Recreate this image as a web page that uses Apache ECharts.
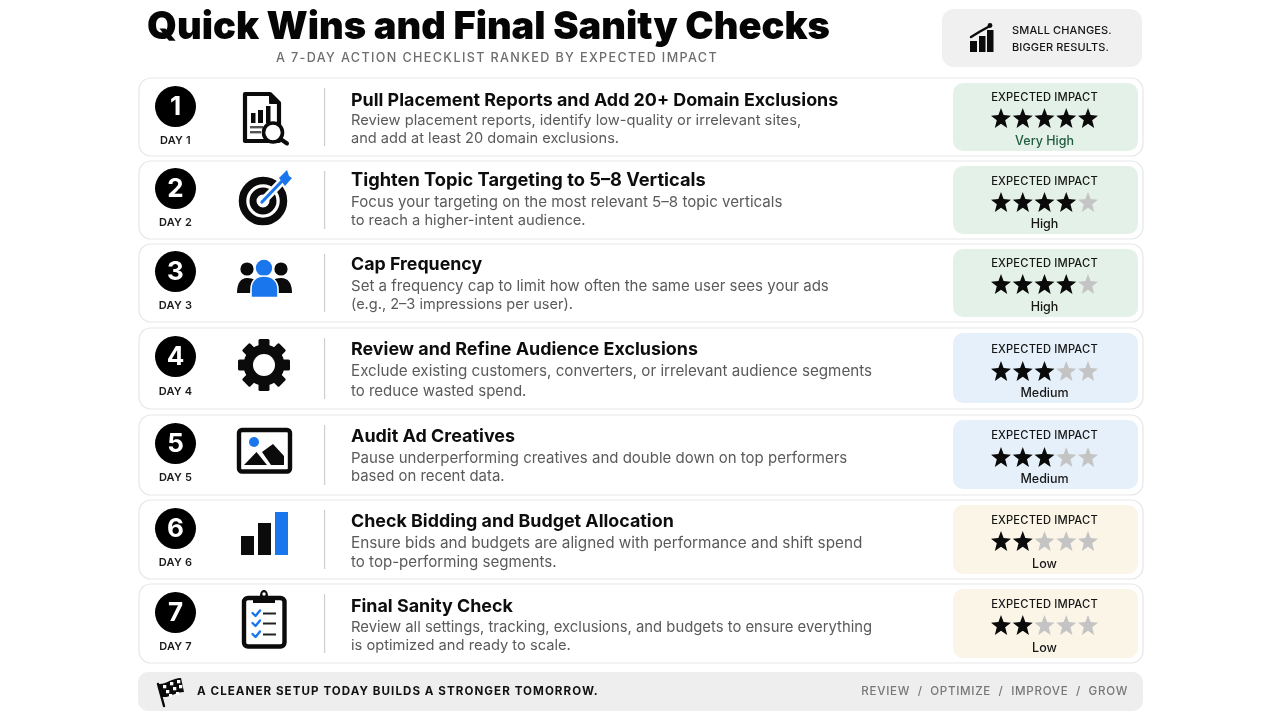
<!DOCTYPE html>
<html><head><meta charset="utf-8">
<style>html,body{margin:0;padding:0;background:#fff}#c{width:1280px;height:720px}</style>
<script src="https://cdn.jsdelivr.net/npm/echarts@6/dist/echarts.min.js"></script>
</head><body><div id="c"></div>
<script>
const chartTitle = 'Quick Wins and Final Sanity Checks';
const chartSubtitle = 'A 7-DAY ACTION CHECKLIST RANKED BY EXPECTED IMPACT';
const badgeLines = ['SMALL CHANGES.', 'BIGGER RESULTS.'];
const footerLeft = 'A CLEANER SETUP TODAY BUILDS A STRONGER TOMORROW.';
const footerRight = 'REVIEW  /  OPTIMIZE  /  IMPROVE  /  GROW';
const impactLabel = 'EXPECTED IMPACT';
const days = ['DAY 1','DAY 2','DAY 3','DAY 4','DAY 5','DAY 6','DAY 7'];
const titles = ['Pull Placement Reports and Add 20+ Domain Exclusions','Tighten Topic Targeting to 5–8 Verticals','Cap Frequency','Review and Refine Audience Exclusions','Audit Ad Creatives','Check Bidding and Budget Allocation','Final Sanity Check'];
const descLine1 = ['Review placement reports, identify low-quality or irrelevant sites,','Focus your targeting on the most relevant 5–8 topic verticals','Set a frequency cap to limit how often the same user sees your ads','Exclude existing customers, converters, or irrelevant audience segments','Pause underperforming creatives and double down on top performers','Ensure bids and budgets are aligned with performance and shift spend','Review all settings, tracking, exclusions, and budgets to ensure everything'];
const descLine2 = ['and add at least 20 domain exclusions.','to reach a higher-intent audience.','(e.g., 2–3 impressions per user).','to reduce wasted spend.','based on recent data.','to top-performing segments.','is optimized and ready to scale.'];
const ratings = [5,4,4,3,3,2,2];
const ratingNames = ['Very High','High','High','Medium','Medium','Low','Low'];

// layout (pixels), separate from the data
const L = {
  top:[78,161,244,328,415,500,584], bottom:[156,239,322,409,495,579,663],
  circle:[106.5,188.5,271.5,356.5,443.5,528.5,612.5], day:[141,223,306,392,478,563,647],
  title:[101,181,265,350,437,522,607], d1:[121,202,286,371,458,543,628], d2:[139,221,305,391,477,562,646],
  titleSize:[17.88,18.25,17.8,17.9,17.95,17.85,17.9],
  d1Size:[14.7,15.1,15.05,15.2,15.0,15.3,14.83], d2Size:[14.6,14.7,14.55,15.0,14.9,15.1,14.7],
  boxT:[83,166,249,333,420,505,589], boxB:[151,234,317,403,489,574,658],
  imp:[98,182,264,350,436,521,605], name:[141,224,307,393,479,564,648],
  starNudge:[0,-0.5,-3,-0.5,1,0.5,0]
};
const tint = {g:'#e4f1e8',b:'#e5f0fa',y:'#fbf5e8'};
const boxFill = [tint.g,tint.g,tint.g,tint.b,tint.b,tint.y,tint.y];
const BLUE='#1a76ec', INK='#0b0b0b';

// letter spacing for the tracked texts
const tracking = new Map([[chartSubtitle,1.37],[footerLeft,1.05],[footerRight,0.7],[impactLabel,0.15],[badgeLines[0],0.12],[badgeLines[1],0.12]]);
days.forEach(d=>tracking.set(d,0.2));
const _ft = CanvasRenderingContext2D.prototype.fillText;
CanvasRenderingContext2D.prototype.fillText = function(t,x,y,m){
  if('letterSpacing' in this) this.letterSpacing=(tracking.get(t)||0)+'px';
  return m===undefined?_ft.call(this,t,x,y):_ft.call(this,t,x,y,m);
};

const txt=(text,x,y,font,fill,align)=>({type:'text',style:{text,x,y,font,fill,textAlign:align||'left',textVerticalAlign:'middle'}});
const rect=(x,y,w,h,fill,r)=>({type:'rect',shape:{x,y,width:w,height:h,r:r||0},style:{fill}});
const circ=(cx,cy,r,fill,stroke,lw)=>({type:'circle',shape:{cx,cy,r},style:{fill:fill||'none',stroke:stroke||null,lineWidth:lw||0}});
const pth=(d,fill,stroke,lw,cap)=>({type:'path',shape:{pathData:d},style:{fill:fill||'none',stroke:stroke||null,lineWidth:lw||0,lineCap:cap||'round',lineJoin:'round'}});

function docIcon(){return [
  pth('M245,94 H270 L279,103 V141 H245 Z','#fff',INK,4.2),
  pth('M270,94 V103 H279',INK,INK,2),
  rect(251,113,4.5,10,INK),rect(258,110,5,13,INK),rect(266,106,4.5,17,INK),
  rect(250,126,13,2.4,'#555'),rect(250,131,11,2.4,'#555'),
  circ(273,132.5,9.5,'#fff',INK,3.6),
  pth('M280.5,139 L287,143.5','none',INK,4)
];}
function targetIcon(){return [
  circ(263,201,20.5,'none',INK,7.5),
  circ(263,201,10,'none',INK,7),
  pth('M262,202 L287,176','none','#fff',8,'butt'),
  pth('M262,202 L284,179','none',BLUE,3.2,'round'),
  pth('M279,178 L287,170 L289,176 L292,178 L285,186 Z',BLUE)
];}
function peopleIcon(){return [
  circ(247,269,6.6,INK),circ(281,269,6.6,INK),
  pth('M237,293 C237,283 241,278 247,278 C251,278 254,279 256,281 L250,293 Z',INK),
  pth('M292,293 C292,283 288,278 281,278 C277,278 274,279 272,281 L278,293 Z',INK),
  circ(264,268,8.2,BLUE),
  pth('M251,297.5 V289 C251,281 256,276 264,276 C272,276 278,281 278,289 V297.5 Z',BLUE,'#fff',1.6)
];}
function gearIcon(){
  const cx=264,cy=365,out=[circ(cx,cy,20.5,INK)];
  for(let a=0;a<8;a++){out.push({type:'rect',x:cx,y:cy,rotation:a*Math.PI/4,shape:{x:-5.5,y:-26,width:11,height:12,r:1.5},style:{fill:INK}});}
  out.push(circ(cx,cy,11,'#fff'));
  return out;
}
function imageIcon(){return [
  {type:'rect',shape:{x:239,y:430,width:51,height:41.5,r:3},style:{fill:'#fff',stroke:INK,lineWidth:4.4}},
  circ(254,442,5,BLUE),
  pth('M244,465 L256.5,452 L267,465 Z',INK),
  pth('M262,452 L273,444 L284,456 V465 H271 Z',INK)
];}
function barsIcon(){return [rect(241,536,13,19,INK),rect(258,523,13,32,INK),rect(275,512,13,43,BLUE)];}
function clipIcon(){
  const c=[{type:'rect',shape:{x:244,y:598,width:40.5,height:48.5,r:4},style:{fill:'#fff',stroke:INK,lineWidth:4.4}},
    pth('M253,603 V596 H260 C260,588 268,588 268,596 H275 V603 Z',INK),circ(264,594,1.7,'#fff')];
  [613,623,634].forEach(y=>{c.push(pth(`M252.5,${y} L255.5,${y+3} L260,${y-2.5}`,'none',BLUE,2.4));c.push(rect(263,y-0.5,13,2,'#222'));});
  return c;
}
const icons=[docIcon,targetIcon,peopleIcon,gearIcon,imageIcon,barsIcon,clipIcon];

function chartBadgeIcon(){return [rect(970,41,7,11,INK),rect(979,36,6.5,16,INK),rect(987,30,6.5,22,INK),
  pth('M971,37 L980,31.5 L990,26','none',INK,2.4),circ(990,25.5,2.4,INK)];}
function flagIcon(){
  const c=[pth('M158,684 L164,706','none',INK,2.4),pth('M158,684 C165,685 172,678 181,678 L184,692 C176,692 170,698 162,697 Z',INK)];
  [[163,685],[170,682],[177,680],[166,690],[173,687],[179,685],[169,694],[176,692]].forEach(p=>c.push(rect(p[0],p[1],3.3,3.3,'#fff')));
  return c;
}

const starPath='path://M50,0 L63,34 L100,37 L71,60 L81,97 L50,76 L19,97 L29,60 L0,37 L37,34 Z';
const starFilled=[],starEmpty=[];
ratings.forEach((r,row)=>{for(let s=1;s<=5;s++){(s<=r?starFilled:starEmpty).push({value:[s,row],symbolOffset:[0,L.starNudge[row]]});}});

function renderRow(p){
  const i=p.dataIndex,t=L.top[i],b=L.bottom[i];
  return {type:'group',children:[
    {type:'rect',shape:{x:139,y:t,width:1004,height:b-t,r:12},style:{fill:'#fff',stroke:'#e7e7e7',lineWidth:1.2}},
    circ(175.5,L.circle[i],20.5,'#000'),
    txt(String(i+1),175.5,L.circle[i]+0.5,'700 26px Inter','#fff','center'),
    txt(days[i],175.5,L.day[i],'600 11px Inter','#1a1a1a','center'),
    rect(324,t+10,1.2,b-t-20,'#cfcfcf'),
    ...icons[i](),
    txt(titles[i],351,L.title[i],'700 '+L.titleSize[i]+'px Inter','#0d0d0d'),
    txt(descLine1[i],351,L.d1[i],'400 '+L.d1Size[i]+'px Inter','#5a5a5a'),
    txt(descLine2[i],351,L.d2[i],'400 '+L.d2Size[i]+'px Inter','#5a5a5a'),
    rect(953,L.boxT[i],185,L.boxB[i]-L.boxT[i],boxFill[i],10),
    txt(impactLabel,1044.5,L.imp[i],'500 11.2px Inter','#161616','center'),
    txt(ratingNames[i],1044.5,L.name[i],'500 12.5px Inter',i===0?'#1f5a3c':'#161616','center')
  ]};
}
function renderPage(){
  return {type:'group',children:[
    txt(chartTitle,147,27.5,'900 38.1px Inter','#050505'),
    txt(chartSubtitle,497,58,'500 12.6px Inter','#6d6d6d','center'),
    rect(942,9,200,58,'#f0f0f0',12),
    ...chartBadgeIcon(),
    txt(badgeLines[0],1012,31,'500 11px Inter','#141414'),
    txt(badgeLines[1],1012,48,'500 11px Inter','#141414'),
    rect(138,672,1005,39,'#eeeeee',10),
    ...flagIcon(),
    txt(footerLeft,197,692,'700 11.6px Inter','#111'),
    txt(footerRight,1128,692,'500 11.6px Inter','#777','right')
  ]};
}

const chart=echarts.init(document.getElementById('c'),null,{renderer:'canvas',width:1280,height:720});
chart.setOption({
  animation:false,backgroundColor:'#fff',
  grid:{left:1001,top:118,width:87,height:507,containLabel:false},
  xAxis:{type:'value',min:1,max:5,show:false},
  yAxis:{type:'value',min:0,max:6,inverse:true,show:false},
  series:[
    {type:'custom',name:'Page',coordinateSystem:'none',silent:true,z:1,data:[chartTitle],renderItem:renderPage},
    {type:'custom',name:'Rows',coordinateSystem:'none',silent:true,z:1,data:days,renderItem:renderRow},
    {type:'scatter',name:'Expected impact',silent:true,z:5,symbol:starPath,symbolSize:20,itemStyle:{color:'#0a0a0a',opacity:1},data:starFilled},
    {type:'scatter',name:'Remaining',silent:true,z:5,symbol:starPath,symbolSize:20,itemStyle:{color:'#c4c4c4',opacity:1},data:starEmpty}
  ]
});
</script></body></html>
